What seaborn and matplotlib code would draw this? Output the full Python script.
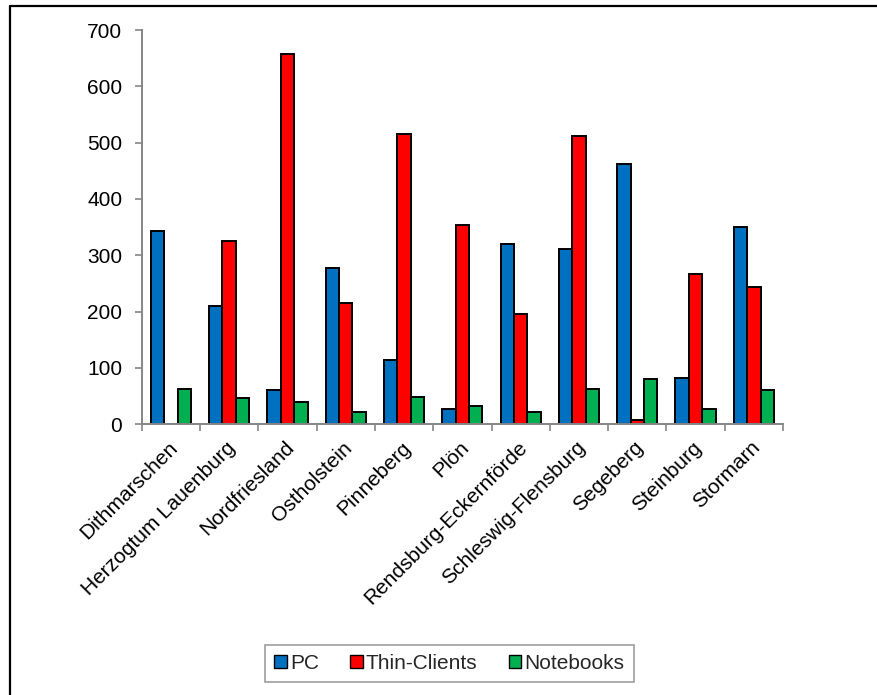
import matplotlib
matplotlib.use("Agg")
import matplotlib.pyplot as plt
from matplotlib.patches import Patch
from matplotlib.lines import Line2D
import pandas as pd
import seaborn as sns

districts = ["Dithmarschen", "Herzogtum Lauenburg", "Nordfriesland", "Ostholstein",
             "Pinneberg", "Plön", "Rendsburg-Eckernförde", "Schleswig-Flensburg",
             "Segeberg", "Steinburg", "Stormarn"]
pc = [344, 210, 61, 277, 114, 27, 320, 311, 462, 83, 351]
thin_clients = [0, 326, 658, 215, 515, 353, 196, 511, 7, 266, 244]
notebooks = [62, 47, 40, 21, 49, 33, 22, 63, 80, 27, 61]
series_names = ["PC", "Thin-Clients", "Notebooks"]
colors = ["#0070C0", "#FF0000", "#00B050"]
yticks = [0, 100, 200, 300, 400, 500, 600, 700]

df = pd.DataFrame({
    "Kreis": districts * 3,
    "Gerät": [series_names[0]] * len(districts) + [series_names[1]] * len(districts)
             + [series_names[2]] * len(districts),
    "Anzahl": pc + thin_clients + notebooks,
})

sns.set_theme(style="white")
plt.rcParams["font.family"] = ["Liberation Sans", "DejaVu Sans"]
FS = 15

fig = plt.figure(figsize=(8.77, 6.95), dpi=100)
ax = fig.add_axes([0.1616, 0.3895, 0.7312, 0.5673])

sns.barplot(data=df, x="Kreis", y="Anzahl", hue="Gerät", palette=colors,
            width=0.69, gap=0, edgecolor="black", linewidth=1.4,
            saturation=1, legend=False, ax=ax)

ax.set_xlim(-0.5, len(districts) - 0.5)
ax.set_ylim(0, 700)
ax.set_yticks(yticks)
ax.set_yticklabels([str(v) for v in yticks], fontsize=FS, color="black")
ax.set_xlabel("")
ax.set_ylabel("")

# category boundary ticks on the x axis
ax.set_xticks([i - 0.5 for i in range(len(districts) + 1)], minor=False)
ax.set_xticklabels([""] * (len(districts) + 1))
ax.tick_params(axis="x", which="major", direction="out", length=5, width=1.2,
               color="#868686", bottom=True)
ax.tick_params(axis="y", direction="out", length=5, width=1.2, color="#868686",
               left=True, pad=9)

for i, name in enumerate(districts):
    ax.text(i + 0.06, -36, name, rotation=45, rotation_mode="anchor",
            ha="right", va="center", fontsize=FS, color="black",
            transform=ax.transData, clip_on=False)

for side in ["top", "right"]:
    ax.spines[side].set_visible(False)
for side in ["left", "bottom"]:
    ax.spines[side].set_color("#868686")
    ax.spines[side].set_linewidth(1.4)

handles = [Patch(facecolor=c, edgecolor="black", linewidth=1.0) for c in colors]
leg = fig.legend(handles, series_names, loc="center", ncol=3,
                 bbox_to_anchor=(449.5 / 877, 1 - 663.5 / 695),
                 fontsize=FS, frameon=True, fancybox=False,
                 handlelength=0.6, handleheight=0.6, handletextpad=0.15,
                 columnspacing=1.5, borderpad=0.45, borderaxespad=0)
leg.get_frame().set_edgecolor("#868686")
leg.get_frame().set_linewidth(1.2)

# outer chart frame (left and top edges)
fig.add_artist(Line2D([10 / 877, 10 / 877], [0, 1 - 6 / 695], color="black",
                      linewidth=1.6, transform=fig.transFigure))
fig.add_artist(Line2D([10 / 877, 1], [1 - 6 / 695, 1 - 6 / 695], color="black",
                      linewidth=1.6, transform=fig.transFigure))

fig.savefig("out.png", dpi=100)
